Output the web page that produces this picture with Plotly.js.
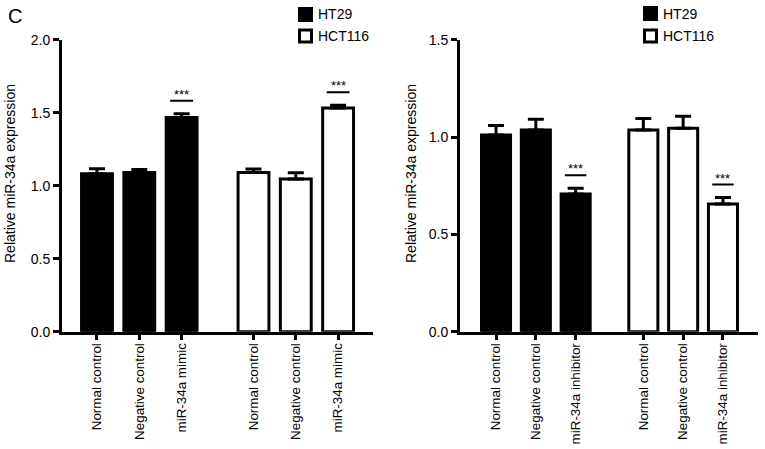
<!DOCTYPE html>
<html>
<head>
<meta charset="utf-8">
<script src="https://cdn.plot.ly/plotly-3.0.1.min.js"></script>
<style>html,body{margin:0;padding:0;background:#fff;}#chart{width:765px;height:449px;}</style>
</head>
<body>
<div id="chart"></div>
<script>
// ---- data ----
const seriesNames = ['HT29', 'HCT116'];
const leftCategories = ['Normal control', 'Negative control', 'miR-34a mimic'];
const rightCategories = ['Normal control', 'Negative control', 'miR-34a inhibitor'];

const leftHT29 = [1.083, 1.092, 1.468];
const leftHT29Err = [0.034, 0.021, 0.026];
const leftHCT116 = [1.092, 1.047, 1.534];
const leftHCT116Err = [0.024, 0.043, 0.018];

const rightHT29 = [1.012, 1.037, 0.708];
const rightHT29Err = [0.048, 0.055, 0.030];
const rightHCT116 = [1.037, 1.046, 0.657];
const rightHCT116Err = [0.059, 0.062, 0.033];

const sigLabel = '***';
const leftSigIndex = 2;   // miR-34a mimic in both groups
const rightSigIndex = 2;  // miR-34a inhibitor in both groups

const yTitle = 'Relative miR-34a expression';
const panelLabel = 'C';

// ---- layout helpers ----
const groupGap = 3.7;
const pos1 = [0, 1, 2];
const pos2 = pos1.map(v => v + groupGap);
const FONT = 'Liberation Sans, Arial, Helvetica, sans-serif';
const W = 765, H = 449;

function barTrace(x, y, err, fill, xa, ya, name) {
  return {
    type: 'bar', x: x, y: y, name: name, xaxis: xa, yaxis: ya,
    width: 0.73,
    marker: {color: fill, line: {color: '#000', width: 3}},
    error_y: {type: 'data', symmetric: false, array: err, arrayminus: err.map(() => 0),
              color: '#000', thickness: 3, width: 8},
    showlegend: false, hoverinfo: 'skip'
  };
}

const data = [
  barTrace(pos1, leftHT29, leftHT29Err, '#000', 'x', 'y', seriesNames[0]),
  barTrace(pos2, leftHCT116, leftHCT116Err, '#fff', 'x', 'y', seriesNames[1]),
  barTrace(pos1, rightHT29, rightHT29Err, '#000', 'x2', 'y2', seriesNames[0]),
  barTrace(pos2, rightHCT116, rightHCT116Err, '#fff', 'x2', 'y2', seriesNames[1])
];

const shapes = [];
const annotations = [];
function addSig(xref, yref, xpos, top) {
  shapes.push({type: 'line', xref: xref, yref: yref, x0: xpos - 0.27, x1: xpos + 0.27,
    ysizemode: 'pixel', yanchor: top, y0: 13, y1: 13, line: {color: '#000', width: 2}});
  annotations.push({xref: xref, yref: yref, x: xpos, y: top, yanchor: 'bottom', yshift: 10,
    text: sigLabel, showarrow: false, font: {family: FONT, size: 13, color: '#000'}});
}
addSig('x', 'y', pos1[leftSigIndex], leftHT29[leftSigIndex] + leftHT29Err[leftSigIndex]);
addSig('x', 'y', pos2[leftSigIndex], leftHCT116[leftSigIndex] + leftHCT116Err[leftSigIndex]);
addSig('x2', 'y2', pos1[rightSigIndex], rightHT29[rightSigIndex] + rightHT29Err[rightSigIndex]);
addSig('x2', 'y2', pos2[rightSigIndex], rightHCT116[rightSigIndex] + rightHCT116Err[rightSigIndex]);

// legends (drawn as boxes + labels, one per panel)
function addLegend(cx, textX, rows) {
  rows.forEach((r) => {
    shapes.push({type: 'rect', xref: 'paper', yref: 'paper',
      x0: (cx - 6) / W, x1: (cx + 6) / W, y0: 1 - (r.cy + 6) / H, y1: 1 - (r.cy - 6) / H,
      fillcolor: r.fill, line: {color: '#000', width: 3}});
    annotations.push({xref: 'paper', yref: 'paper', x: textX / W, y: 1 - r.cy / H,
      xanchor: 'left', yanchor: 'middle', text: r.name, showarrow: false,
      font: {family: FONT, size: 14, color: '#000'}});
  });
}
addLegend(305.5, 316, [{name: seriesNames[0], fill: '#000', cy: 14.5}, {name: seriesNames[1], fill: '#fff', cy: 36}]);
addLegend(650.5, 661, [{name: seriesNames[0], fill: '#000', cy: 13.5}, {name: seriesNames[1], fill: '#fff', cy: 36}]);

// panel letter
annotations.push({xref: 'paper', yref: 'paper', x: 6 / W, y: 1 - 16 / H, xanchor: 'left', yanchor: 'middle',
  text: panelLabel, showarrow: false, font: {family: FONT, size: 20, color: '#000'}});

// y-axis titles
[[10, 174], [411, 174]].forEach(([px, py]) => {
  annotations.push({xref: 'paper', yref: 'paper', x: px / W, y: 1 - py / H, xanchor: 'center', yanchor: 'middle',
    textangle: -90, text: yTitle, showarrow: false, font: {family: FONT, size: 14, color: '#000'}});
});

function xAxis(domain, range, labels, anchor) {
  return {domain: domain, range: range, anchor: anchor, tickmode: 'array',
    tickvals: pos1.concat(pos2), ticktext: labels.concat(labels), tickangle: -90,
    ticks: 'outside', ticklen: 5, tickwidth: 3, tickcolor: '#000', ticklabelstandoff: -2,
    showline: true, linecolor: '#000', linewidth: 3, showgrid: false, zeroline: false,
    tickfont: {family: FONT, size: 13.4, color: '#000'}, automargin: false, fixedrange: true};
}
function yAxis(range, dtick, anchor) {
  return {domain: [0.261, 0.911], range: range, anchor: anchor, tickmode: 'linear', tick0: 0, dtick: dtick,
    tickformat: '.1f', ticks: 'outside', ticklen: 6, tickwidth: 3, tickcolor: '#000',
    showline: true, linecolor: '#000', linewidth: 3, showgrid: false, zeroline: false,
    tickfont: {family: FONT, size: 14, color: '#000'},
    automargin: false, fixedrange: true};
}

const layout = {
  width: W, height: H, margin: {l: 0, r: 0, t: 0, b: 0},
  paper_bgcolor: '#fff', plot_bgcolor: '#fff', showlegend: false, bargap: 0,
  xaxis: xAxis([62 / W, 373 / W], [-0.827, 6.525], leftCategories, 'y'),
  yaxis: yAxis([0, 2.0], 0.5, 'x'),
  xaxis2: xAxis([460 / W, 758 / W], [-0.905, 6.58], rightCategories, 'y2'),
  yaxis2: yAxis([0, 1.5], 0.5, 'x2'),
  shapes: shapes, annotations: annotations
};

Plotly.newPlot('chart', data, layout, {staticPlot: true, displayModeBar: false});
</script>
</body>
</html>
